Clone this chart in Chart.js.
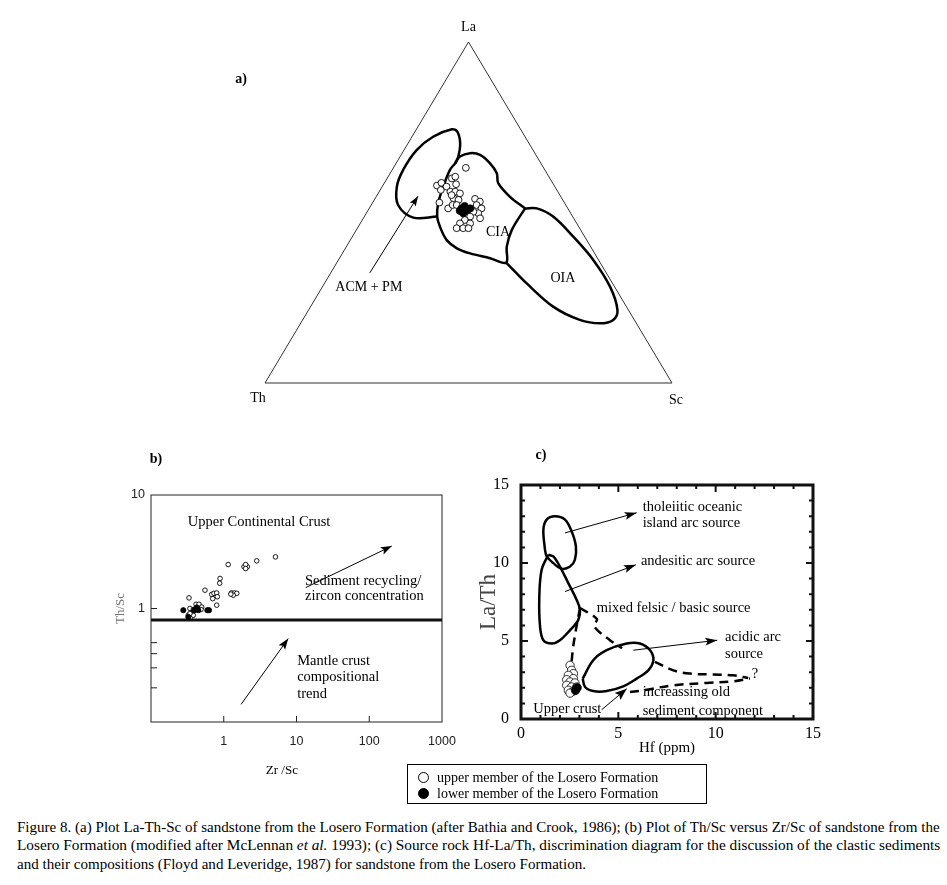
<!DOCTYPE html>
<html><head><meta charset="utf-8">
<script src="https://cdn.jsdelivr.net/npm/chart.js@4.4.1/dist/chart.umd.min.js"></script>
<style>
body{margin:0;background:#fff;width:947px;height:885px;position:relative;overflow:hidden;font-family:"Liberation Serif","Times New Roman",serif;color:#000}
canvas{position:absolute}
#cA{left:0;top:0}
#cB{left:0;top:440px}
#cC{left:470px;top:440px}
#legend{position:absolute;left:407px;top:764px;width:300px;height:40px;border:1px solid #000;box-sizing:border-box;font-size:14px}
.row{position:absolute;left:10px;height:16px;line-height:16px;white-space:nowrap}
.dot{display:inline-block;width:11px;height:11px;border-radius:50%;border:1px solid #000;box-sizing:border-box;vertical-align:-1px;margin-right:8px}
.cap{position:absolute;left:17px;font-size:14px;line-height:18px;white-space:nowrap;transform-origin:0 50%;display:inline-block}
</style></head>
<body>
<canvas id="cA" width="947" height="420"></canvas>
<canvas id="cB" width="470" height="350"></canvas>
<canvas id="cC" width="477" height="330"></canvas>
<div id="legend">
  <div class="row" style="top:5px"><span class="dot" style="background:#fff"></span>upper member of the Losero Formation</div>
  <div class="row" style="top:21px"><span class="dot" style="background:#000"></span>lower member of the Losero Formation</div>
</div>
<div class="cap" id="l1" style="top:819px">Figure 8. (a) Plot La-Th-Sc of sandstone from the Losero Formation (after Bathia and Crook, 1986); (b) Plot of Th/Sc versus Zr/Sc of sandstone from the</div>
<div class="cap" id="l2" style="top:837px">Losero Formation (modified after McLennan <i>et al.</i> 1993); (c) Source rock Hf-La/Th, discrimination diagram for the discussion of the clastic sediments</div>
<div class="cap" id="l3" style="top:856px">and their compositions (Floyd and Leveridge, 1987) for sandstone from the Losero Formation.</div>
<script>
// ---------------- DATA ----------------
// (a) La-Th-Sc ternary, values in % (Th = 100 - La - Sc)
const aUpperLa = [63.1,57.9,58.7,56.6,57.6,60.0,60.5,58.3,56.1,56.1,55.6,54.2,53.7,52.9,51.2,52.2,52.2,54.0,53.2,52.2,51.2,49.8,50.2,48.3,48.8,47.8,46.8,46.8,45.4,45.4,45.4,55.1];
const aUpperSc = [17.8,13.3,14.0,14.9,15.8,15.9,16.5,17.8,17.5,18.7,20.1,19.2,20.7,16.4,19.4,20.0,21.0,24.6,26.2,25.9,27.6,27.5,26.1,28.7,26.0,25.2,24.5,27.0,24.4,26.0,27.3,18.3];
const aLowerLa = [51.2,51.9,50.7,50.5,51.2,49.8];
const aLowerSc = [22.7,23.1,24.2,22.6,24.8,23.8];
const triLa = [0,0,100,0];
const triSc = [0,100,0,0];
const acmLa = [48.8,48.5,52.2,57.6,62.5,68.3,72.2,74.4,73.7,70.3,66.4,64.4];
const acmSc = [17.9,12.2,6.6,3.6,2.7,3.1,5.2,8.7,10.4,12.8,14.3,14.5];
const ciaLa = [51.2,44.9,40.0,35.3,36.6,38.0,39.5,41.9,45.8,48.8,52.7,57.6,62.5,64.4,66.4,67.4,66.9,64.4,61.5,58.6,54.6,51.2];
const ciaSc = [38.3,38.2,39.4,41.6,37.0,31.4,27.4,23.7,20.1,17.9,16.2,15.0,14.2,14.5,14.7,16.7,19.4,23.1,26.2,28.0,32.9,38.3];
const oiaLa = [51.2,51.2,48.8,42.9,36.1,28.2,21.4,18.5,17.5,18.5,22.4,29.2,33.1,35.3];
const oiaSc = [38.3,41.2,46.4,54.3,62.6,70.7,75.9,76.3,73.6,68.1,59.6,49.7,44.5,41.6];
const aArrowLa = [32.3,54.8];
const aArrowSc = [9.6,10.2];

// (b) Th/Sc vs Zr/Sc
const bUpperZrSc = [1.15,1.90,2.11,2.00,2.00,2.84,5.14,0.89,0.88,0.552,0.333,0.683,0.734,0.80,0.815,0.705,1.28,1.40,1.51,1.35,1.25,0.80,0.343,0.416,0.457,0.498,0.429,0.486,0.381,0.326,0.352,0.381,0.343];
const bUpperThSc = [2.44,2.33,2.33,2.44,2.25,2.63,2.85,1.84,1.67,1.45,1.24,1.33,1.36,1.37,1.27,1.22,1.37,1.37,1.36,1.31,1.34,1.07,1.00,1.09,1.09,1.03,1.02,0.98,0.98,0.873,0.843,0.873,0.903];
const bLowerZrSc = [0.278,0.403,0.425,0.447,0.39,0.594,0.627,0.326];
const bLowerThSc = [0.966,0.98,1.02,0.966,0.96,0.966,0.966,0.843];
const bUccX = [0.1,1000];
const bUccY = [0.79,0.79];
const bArrow1X = [13.4,204], bArrow1Y = [1.53,3.55];
const bArrow2X = [1.73,7.7], bArrow2Y = [0.143,0.543];
const bXTicks = [1,10,100,1000];
const bYTicks = [1,10];
const bXMarks = [1,10,100];
const bYMarks = [0.2,0.3,0.4,0.5,1];

// (c) Hf vs La/Th
const cThoX = [1.23,1.15,1.32,1.75,2.26,2.60,2.82,2.77,2.52,2.09,1.66,1.32,1.23];
const cThoY = [10.85,12.14,12.78,12.99,12.78,12.03,11.06,10.21,9.77,9.63,9.99,10.42,10.85];
const cAndX = [1.40,1.06,0.94,0.98,1.15,1.58,2.00,2.52,2.94,3.03,2.86,2.43,2.00,1.66,1.40];
const cAndY = [10.53,9.56,7.84,5.91,5.05,4.84,5.05,5.70,6.34,6.99,7.63,8.71,9.77,10.42,10.53];
const cAcidX = [3.17,3.71,4.40,5.43,6.11,6.63,6.80,6.54,5.94,5.25,4.40,3.71,3.29,3.17];
const cAcidY = [2.59,3.77,4.41,4.84,4.84,4.41,3.77,3.12,2.59,2.09,1.79,1.79,2.05,2.59];
const cMixUpX = [3.03,3.90,3.75,4.57,5.19], cMixUpY = [7.12,6.41,5.96,5.05,4.54];
const cMixLeftX = [3.03,2.82,2.67,2.60], cMixLeftY = [7.12,5.70,4.54,3.66];
const cRightUpX = [6.88,7.82,8.68,9.88,10.90,11.67], cRightUpY = [3.66,3.12,2.91,2.85,2.80,2.63];
const cRightLowX = [5.60,6.28,7.82,9.54,10.90,11.76], cRightLowY = [1.73,1.84,2.16,2.31,2.41,2.59];
const cArrow1X = [2.26,5.94], cArrow1Y = [11.93,13.22];
const cArrow2X = [2.26,5.90], cArrow2Y = [8.17,9.88];
const cArrow3X = [5.77,10.08], cArrow3Y = [4.41,5.05];
const cArrow4X = [4.14,5.43], cArrow4Y = [0.59,1.94];
const cUpperHf = [2.52,2.60,2.69,2.43,2.69,2.35,2.52,2.77,2.35,2.60,2.86,2.43,2.69,2.52];
const cUpperLaTh = [3.44,3.12,2.91,2.80,2.59,2.52,2.37,2.31,2.16,2.05,2.05,1.84,1.79,1.66];
const cLowerHf = [2.80,2.88];
const cLowerLaTh = [1.84,2.00];
const cTicks = [0,5,10,15];

// ---------------- HELPERS ----------------
const SERIF = '"Liberation Serif","Times New Roman",serif';
const SANS = '"Liberation Sans",Arial,sans-serif';
Chart.defaults.font.family = SERIF;
Chart.defaults.color = '#000';
const pts = (xs, ys) => xs.map((x, i) => ({x, y: ys[i]}));
const tern = (la, sc) => la.map((l, i) => ({x: sc[i] / 100 + l / 200, y: l / 100}));
const tp = (la, sc) => ({x: sc / 100 + la / 200, y: la / 100});
const F = (s, b) => (b ? 'bold ' : '') + s + 'px ' + SERIF;

function textPlugin(items) {
  return { id: 'texts', afterDraw(chart) {
    const {ctx, scales} = chart;
    items.forEach(it => {
      ctx.save();
      ctx.font = it.font || F(14.5);
      ctx.fillStyle = it.color || '#000';
      ctx.textAlign = it.align || 'left';
      ctx.textBaseline = 'middle';
      const px = scales.x.getPixelForValue(it.x) + (it.dx || 0);
      const py = scales.y.getPixelForValue(it.y) + (it.dy || 0);
      ctx.fillText(it.text, px, py);
      ctx.restore();
    });
  }};
}
const arrowPlugin = { id: 'arrows', afterDatasetsDraw(chart) {
  const ctx = chart.ctx;
  chart.data.datasets.forEach((ds, i) => {
    if (!ds.arrow) return;
    const d = chart.getDatasetMeta(i).data, n = d.length;
    const a = d[n - 2], b = d[n - 1];
    const ang = Math.atan2(b.y - a.y, b.x - a.x), L = ds.arrow.len, W = ds.arrow.half;
    const c = Math.cos(ang), s = Math.sin(ang);
    ctx.save(); ctx.fillStyle = '#000'; ctx.beginPath();
    ctx.moveTo(b.x, b.y);
    ctx.lineTo(b.x - L * c + W * s, b.y - L * s - W * c);
    ctx.lineTo(b.x - L * c * 0.8, b.y - L * s * 0.8);
    ctx.lineTo(b.x - L * c - W * s, b.y - L * s + W * c);
    ctx.closePath(); ctx.fill(); ctx.restore();
  });
}};
function framePlugin(cfg) {
  return { id: 'frame', afterDatasetsDraw(chart) {
    const {ctx, chartArea: a} = chart;
    ctx.save(); ctx.strokeStyle = cfg.color || '#000';
    (cfg.marks || []).forEach(m => {
      const sc = chart.scales[m.axis];
      const vals = m.values || sc.ticks.map(t => t.value);
      ctx.lineWidth = m.width || 1;
      ctx.beginPath();
      vals.forEach(v => {
        const p = sc.getPixelForValue(v);
        const L = (m.majorStep && Math.abs(v % m.majorStep) < 1e-9) ? m.majorLen : m.len;
        m.sides.forEach(sd => {
          if (sd === 'bottom') { ctx.moveTo(p, a.bottom); ctx.lineTo(p, a.bottom - L); }
          if (sd === 'top') { ctx.moveTo(p, a.top); ctx.lineTo(p, a.top + L); }
          if (sd === 'left') { ctx.moveTo(a.left, p); ctx.lineTo(a.left + L, p); }
          if (sd === 'right') { ctx.moveTo(a.right, p); ctx.lineTo(a.right - L, p); }
        });
      });
      ctx.stroke();
    });
    ctx.lineWidth = cfg.width;
    ctx.strokeRect(a.left, a.top, a.right - a.left, a.bottom - a.top);
    ctx.restore();
  }};
}
const base = {responsive: false, animation: false, events: [], devicePixelRatio: 1};
const noPlug = {legend: {display: false}, tooltip: {enabled: false}};
const outline = (data, extra) => Object.assign({data, showLine: true, pointRadius: 0, borderColor: '#000', borderWidth: 2.5, tension: 0.35, order: 2}, extra || {});
const arrowDs = (data, len, half) => ({data, showLine: true, pointRadius: 0, borderColor: '#000', borderWidth: 1, arrow: {len, half}, order: 2});

// ---------------- (a) ----------------
new Chart(document.getElementById('cA'), {
  type: 'scatter',
  data: {datasets: [
    {data: tern(aLowerLa, aLowerSc), pointRadius: 3.6, pointBorderWidth: 0.8, pointBorderColor: '#000', pointBackgroundColor: '#000', order: 0},
    {data: tern(aUpperLa, aUpperSc), pointRadius: 3.4, pointBorderWidth: 0.9, pointBorderColor: '#000', pointBackgroundColor: '#fff', order: 1},
    outline(tern(triLa, triSc), {borderColor: '#333', borderWidth: 1, tension: 0, clip: false, order: 3}),
    outline(tern(acmLa, acmSc)),
    outline(tern(ciaLa, ciaSc)),
    outline(tern(oiaLa, oiaSc)),
    arrowDs(tern(aArrowLa, aArrowSc), 10, 3.5)
  ]},
  options: Object.assign({}, base, {
    layout: {padding: {left: 265, right: 275, top: 42, bottom: 37}},
    scales: {x: {type: 'linear', min: 0, max: 1, display: false}, y: {type: 'linear', min: 0, max: 1, display: false}},
    plugins: noPlug
  }),
  plugins: [arrowPlugin, textPlugin([
    Object.assign({text: 'ACM + PM', align: 'center', font: F(14), dx: 9}, tp(28.2, 9.2)),
    Object.assign({text: 'CIA', align: 'center', font: F(14)}, tp(44.3, 35.1)),
    Object.assign({text: 'OIA', align: 'center', font: F(14)}, tp(30.8, 57.8)),
    {text: 'La', x: 0.5, y: 1, dy: -15, align: 'center', font: F(14)},
    {text: 'Th', x: 0, y: 0, dx: -7, dy: 15, align: 'center', font: F(14)},
    {text: 'Sc', x: 1, y: 0, dx: 4, dy: 17, align: 'center', font: F(14)},
    {text: 'a)', x: -0.059, y: 0.889, align: 'center', font: F(14, true)}
  ])]
});

// ---------------- (b) ----------------
new Chart(document.getElementById('cB'), {
  type: 'scatter',
  data: {datasets: [
    {data: pts(bLowerZrSc, bLowerThSc), pointRadius: 2.6, pointBorderWidth: 0.8, pointBorderColor: '#000', pointBackgroundColor: '#000', order: 0},
    {data: pts(bUpperZrSc, bUpperThSc), pointRadius: 2.3, pointBorderWidth: 0.9, pointBorderColor: '#000', pointBackgroundColor: '#fff', order: 1},
    outline(pts(bUccX, bUccY), {borderWidth: 3, tension: 0, borderColor: '#111'}),
    arrowDs(pts(bArrow1X, bArrow1Y), 11, 4),
    arrowDs(pts(bArrow2X, bArrow2Y), 11, 4)
  ]},
  options: Object.assign({}, base, {
    layout: {padding: {left: 105, right: 28, top: 55, bottom: 8}},
    scales: {
      x: {type: 'logarithmic', min: 0.1, max: 1000,
        afterBuildTicks: s => { s.ticks = bXTicks.map(v => ({value: v})); },
        afterFit: s => { s.height = 60; },
        ticks: {font: {family: SANS, size: 12.5}, color: '#222', padding: 12, maxRotation: 0, autoSkip: false, callback: v => String(v)},
        grid: {display: false, drawTicks: false}, border: {display: false},
        title: {display: false}
      },
      y: {type: 'logarithmic', min: 0.1, max: 10,
        afterBuildTicks: s => { s.ticks = bYTicks.map(v => ({value: v})); },
        afterFit: s => { s.width = 46; },
        ticks: {font: {family: SANS, size: 12.5}, color: '#222', padding: 6, autoSkip: false, callback: v => String(v)},
        grid: {display: false, drawTicks: false}, border: {display: false},
        title: {display: true, text: 'Th/Sc', color: '#777', font: {family: SERIF, size: 13}, padding: {top: 8, bottom: 0}}
      }
    },
    plugins: noPlug
  }),
  plugins: [arrowPlugin, framePlugin({width: 1, color: '#222', marks: [
      {axis: 'x', values: bXMarks, sides: ['bottom'], len: 6, width: 1},
      {axis: 'y', values: bYMarks, sides: ['left'], len: 6, width: 1}
    ]}), textPlugin([
    {text: 'Upper Continental Crust', x: 0.32, y: 5.8},
    {text: 'Sediment recycling/', x: 13.1, y: 1.74},
    {text: 'zircon concentration', x: 13.1, y: 1.28},
    {text: 'Mantle crust', x: 10.2, y: 0.343},
    {text: 'compositional', x: 10.2, y: 0.248},
    {text: 'trend', x: 10.2, y: 0.175},
    {text: 'Zr /Sc', x: 6.3, y: 0.0374, align: 'center', font: F(13)},
    {text: 'b)', x: 0.117, y: 20.4, align: 'center', font: F(14, true)}
  ])]
});

// ---------------- (c) ----------------
const dashed = data => outline(data, {borderDash: [9, 6], tension: 0.35});
new Chart(document.getElementById('cC'), {
  type: 'scatter',
  data: {datasets: [
    {data: pts(cLowerHf, cLowerLaTh), pointRadius: 4.2, pointBorderWidth: 0.8, pointBorderColor: '#000', pointBackgroundColor: '#000', order: 0},
    {data: pts(cUpperHf, cUpperLaTh), pointRadius: 4.2, pointBorderWidth: 0.8, pointBorderColor: '#000', pointBackgroundColor: '#fff', order: 1},
    outline(pts(cThoX, cThoY)),
    outline(pts(cAndX, cAndY)),
    outline(pts(cAcidX, cAcidY)),
    dashed(pts(cMixUpX, cMixUpY)),
    dashed(pts(cMixLeftX, cMixLeftY)),
    dashed(pts(cRightUpX, cRightUpY)),
    dashed(pts(cRightLowX, cRightLowY)),
    arrowDs(pts(cArrow1X, cArrow1Y), 12, 4),
    arrowDs(pts(cArrow2X, cArrow2Y), 12, 4),
    arrowDs(pts(cArrow3X, cArrow3Y), 12, 4),
    arrowDs(pts(cArrow4X, cArrow4Y), 12, 4.5)
  ]},
  options: Object.assign({}, base, {
    layout: {padding: {left: 5, right: 134, top: 45, bottom: 11}},
    scales: {
      x: {type: 'linear', min: 0, max: 15,
        ticks: {stepSize: 1, font: {family: SERIF, size: 16}, padding: 5, maxRotation: 0, autoSkip: false,
          callback: v => cTicks.includes(v) ? String(v) : ''},
        afterFit: s => { s.height = 40; },
        grid: {display: false, drawTicks: false}, border: {display: false},
        title: {display: true, text: 'Hf (ppm)', font: {family: SERIF, size: 15}, padding: {top: 0, bottom: 2}}
      },
      y: {type: 'linear', min: 0, max: 15,
        ticks: {stepSize: 1, font: {family: SERIF, size: 16}, padding: 12, autoSkip: false,
          callback: v => cTicks.includes(v) ? String(v) : ''},
        afterFit: s => { s.width = 46; },
        grid: {display: false, drawTicks: false}, border: {display: false},
        title: {display: true, text: 'La/Th', color: '#444', font: {family: SERIF, size: 23}, padding: {top: 0, bottom: 0}}
      }
    },
    plugins: noPlug
  }),
  plugins: [arrowPlugin, framePlugin({width: 3, color: '#111', marks: [
      {axis: 'x', sides: ['bottom', 'top'], len: 4, majorLen: 7, majorStep: 5, width: 2},
      {axis: 'y', sides: ['left', 'right'], len: 4, majorLen: 7, majorStep: 5, width: 2}
    ]}), textPlugin([
    {text: 'tholeiitic oceanic', x: 6.25, y: 13.57},
    {text: 'island arc source', x: 6.25, y: 12.57},
    {text: 'andesitic arc source', x: 6.16, y: 10.14},
    {text: 'mixed felsic / basic source', x: 3.89, y: 7.13},
    {text: 'acidic arc', x: 10.48, y: 5.23},
    {text: 'source', x: 10.48, y: 4.13},
    {text: '?', x: 11.86, y: 2.88},
    {text: 'increassing old', x: 6.25, y: 1.69},
    {text: 'sediment component', x: 6.25, y: 0.50},
    {text: 'Upper crust', x: 0.63, y: 0.66},
    {text: 'c)', x: 1.03, y: 16.9, align: 'center', font: F(14, true)}
  ])]
});

// caption fitting
(function () {
  const target = 923;
  const l1 = document.getElementById('l1'), l2 = document.getElementById('l2'), l3 = document.getElementById('l3');
  const s1 = target / l1.offsetWidth, s2 = target / l2.offsetWidth;
  l1.style.transform = 'scaleX(' + s1 + ')';
  l2.style.transform = 'scaleX(' + s2 + ')';
  l3.style.transform = 'scaleX(' + s1 + ')';
})();
</script>
</body></html>
